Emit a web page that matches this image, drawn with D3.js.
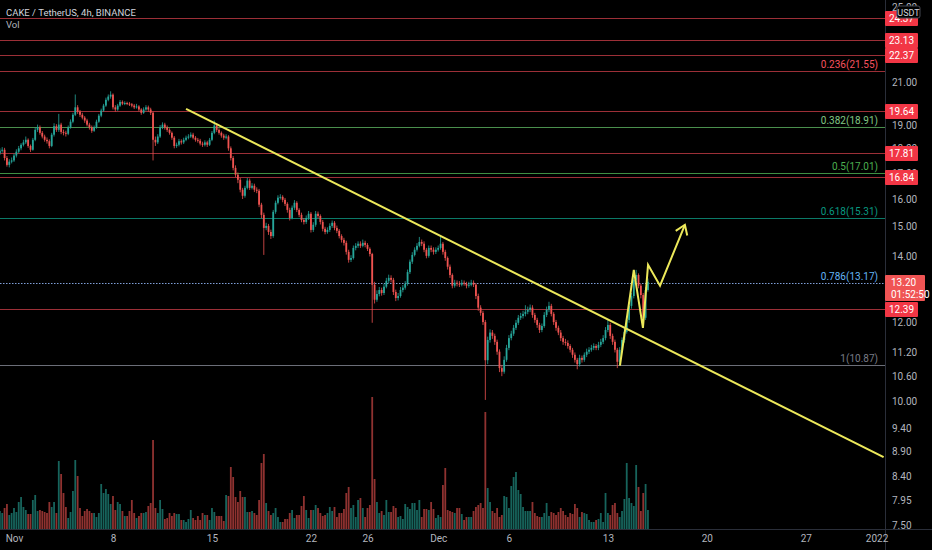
<!DOCTYPE html>
<html>
<head>
<meta charset="utf-8">
<script src="https://cdn.jsdelivr.net/npm/d3@7"></script>
<style>
  html, body { margin: 0; padding: 0; background: #000; overflow: hidden; }
  text { font-family: Roboto, "Liberation Sans", sans-serif; }
</style>
</head>
<body>
<svg width="932" height="550"></svg>
<script>
// CAKE / USDT 4h candles, first candle Oct 31 2021 00:00 UTC
const startTime = "2021-10-31T00:00:00Z";
const firstOpen = 17.8;
const closes = [
  17.9,17.94,17.6,17.32,17.45,17.5,17.7,17.86,18.0,18.15,18.25,18.36,
  18.1,17.94,18.36,18.79,18.9,18.66,18.5,18.36,18.3,18.1,18.58,18.95,
  18.79,19.02,18.7,18.66,18.62,18.9,19.15,19.46,19.8,19.6,19.46,19.33,
  19.2,19.02,18.9,18.75,18.9,19.15,19.42,19.65,19.88,20.15,20.3,20.39,
  19.8,19.7,19.88,20.05,19.97,20.0,19.97,19.94,19.88,19.8,19.84,19.7,
  19.55,19.7,19.8,19.7,19.55,18.36,18.25,18.5,18.9,19.02,18.9,18.79,
  18.66,18.45,18.1,18.15,18.3,18.25,18.36,18.45,18.5,18.58,18.45,18.36,
  18.32,18.2,18.15,18.25,18.15,18.36,18.66,18.98,18.79,18.66,18.54,18.45,
  18.5,18.0,17.6,17.2,16.93,16.73,16.35,16.12,16.42,16.7,16.42,16.5,
  16.35,16.31,15.79,15.42,14.96,15.03,14.82,14.68,15.53,15.86,16.05,16.08,
  15.97,15.82,15.6,15.31,15.68,15.86,15.6,15.42,15.24,15.17,15.31,15.46,
  14.89,15.07,15.46,15.38,15.17,14.93,14.82,14.89,15.03,15.14,14.96,14.86,
  14.68,14.55,14.45,14.15,13.89,13.95,14.28,14.35,14.42,14.35,14.45,14.38,
  14.25,14.08,13.11,12.66,12.83,12.95,12.86,13.05,13.23,13.32,13.26,12.89,
  12.71,12.77,12.95,13.02,13.14,13.5,13.83,14.05,14.22,14.35,14.48,14.42,
  14.22,14.02,14.28,14.22,14.15,14.22,14.28,14.42,14.15,13.95,13.67,13.41,
  13.08,13.17,13.14,13.11,13.17,13.14,13.08,13.11,13.17,13.11,12.77,12.43,
  12.28,12.02,11.0,11.53,11.73,11.64,11.48,11.22,10.8,10.71,11.01,11.32,
  11.58,11.7,11.86,12.0,12.14,12.19,12.25,12.31,12.37,12.43,12.22,12.08,
  11.94,11.8,11.91,12.22,12.37,12.48,12.25,12.02,11.86,11.73,11.58,11.48,
  11.45,11.37,11.27,11.14,11.01,10.9,11.06,11.01,11.14,11.22,11.27,11.32,
  11.37,11.32,11.4,11.48,11.58,11.8,11.94,11.64,11.48,11.27,10.96,11.27,
  11.53,11.75,12.08,12.48,12.77,13.26,13.41,13.08,12.8,12.14,12.95,13.2
];
const highs = [
  18.0,18.05,18.02,17.68,17.55,17.62,17.78,17.96,18.1,18.22,18.36,18.5,
  18.42,18.16,18.44,18.9,19.02,18.98,18.74,18.58,18.46,18.38,18.66,19.08,
  19.04,19.5,19.1,18.8,18.75,18.98,19.25,19.55,20.4,19.9,19.68,19.55,
  19.4,19.28,19.1,18.98,18.98,19.24,19.5,19.74,19.96,20.25,20.4,20.55,
  20.45,19.9,19.96,20.14,20.12,20.08,20.06,20.04,20.0,19.95,19.96,19.9,
  19.76,19.8,19.9,19.88,19.78,19.6,18.5,18.6,19.0,19.12,19.1,18.98,
  18.86,18.72,18.52,18.24,18.4,18.38,18.45,18.54,18.6,18.68,18.66,18.52,
  18.44,18.4,18.28,18.34,18.32,18.44,18.74,19.2,19.05,18.86,18.72,18.62,
  18.6,18.56,18.08,17.68,17.3,17.02,16.8,16.42,16.5,16.8,16.78,16.6,
  16.58,16.44,16.38,15.86,15.5,15.14,15.1,14.9,15.6,15.94,16.14,16.18,
  16.14,16.04,15.88,15.68,15.76,15.96,15.92,15.66,15.5,15.3,15.4,15.56,
  15.52,15.16,15.56,15.54,15.44,15.24,15.0,14.98,15.12,15.22,15.2,15.04,
  14.92,14.74,14.62,14.52,14.22,14.04,14.36,14.44,14.5,14.5,14.56,14.52,
  14.44,14.3,14.12,13.2,12.94,13.04,13.02,13.14,13.32,13.42,13.4,13.32,
  12.96,12.86,13.04,13.1,13.22,13.58,13.9,14.14,14.3,14.44,14.65,14.56,
  14.5,14.28,14.36,14.36,14.3,14.3,14.36,14.65,14.48,14.22,14.0,13.74,
  13.46,13.26,13.24,13.22,13.26,13.24,13.2,13.2,13.26,13.24,13.16,12.84,
  12.5,12.34,12.08,11.62,11.82,11.8,11.7,11.54,11.28,10.88,11.1,11.4,
  11.66,11.78,11.94,12.08,12.22,12.28,12.34,12.5,12.46,12.52,12.5,12.28,
  12.14,12.0,11.98,12.3,12.46,12.6,12.54,12.3,12.08,11.92,11.8,11.64,
  11.56,11.52,11.42,11.32,11.2,11.06,11.14,11.12,11.2,11.3,11.34,11.4,
  11.44,11.42,11.48,11.56,11.66,11.88,12.1,12.0,11.7,11.54,11.32,11.34,
  11.6,11.84,12.16,12.56,12.86,13.36,13.57,13.46,13.14,12.86,13.04,13.3
];
const lows = [
  17.72,17.82,17.5,17.25,17.22,17.38,17.44,17.62,17.8,17.92,18.08,18.18,
  18.02,17.85,17.9,18.3,18.7,18.58,18.42,18.28,18.2,18.0,18.05,18.5,
  18.7,18.7,18.6,18.55,18.5,18.56,18.84,19.08,19.4,19.5,19.36,19.25,
  19.1,18.94,18.8,18.66,18.7,18.84,19.1,19.35,19.6,19.82,20.08,20.2,
  19.7,19.6,19.64,19.82,19.9,19.9,19.9,19.86,19.8,19.72,19.74,19.62,
  19.46,19.5,19.64,19.6,19.45,17.5,18.1,18.18,18.44,18.82,18.8,18.7,
  18.58,18.36,18.0,18.02,18.08,18.16,18.18,18.3,18.38,18.44,18.38,18.28,
  18.24,18.12,18.06,18.08,18.06,18.1,18.3,18.6,18.7,18.58,18.45,18.36,
  18.38,17.9,17.5,17.1,16.84,16.6,16.25,16.0,16.05,16.36,16.34,16.36,
  16.26,16.22,15.7,15.3,14.05,14.88,14.72,14.58,14.62,15.46,15.8,15.98,
  15.88,15.74,15.5,15.22,15.26,15.6,15.52,15.34,15.16,15.08,15.1,15.24,
  14.8,14.82,15.0,15.3,15.08,14.84,14.74,14.76,14.82,14.96,14.88,14.78,
  14.6,14.46,14.36,14.06,13.8,13.82,13.9,14.2,14.28,14.28,14.3,14.3,
  14.18,14.0,12.0,12.55,12.6,12.76,12.78,12.8,13.0,13.16,13.18,12.8,
  12.62,12.64,12.72,12.88,12.96,13.08,13.44,13.76,14.0,14.16,14.3,14.34,
  14.14,13.94,13.96,14.14,14.06,14.08,14.16,14.22,14.06,13.86,13.58,13.32,
  13.0,13.02,13.06,13.04,13.06,13.08,13.0,13.02,13.06,13.04,12.68,12.34,
  12.2,11.94,10.03,10.9,11.46,11.56,11.4,11.14,10.7,10.6,10.66,10.96,
  11.26,11.52,11.64,11.8,11.94,12.08,12.12,12.18,12.24,12.3,12.14,12.0,
  11.86,11.72,11.74,11.86,12.16,12.3,12.18,11.94,11.78,11.66,11.5,11.4,
  11.38,11.3,11.2,11.06,10.94,10.77,10.84,10.94,10.96,11.08,11.16,11.22,
  11.26,11.26,11.26,11.34,11.42,11.52,11.74,11.56,11.4,11.2,10.8,10.9,
  11.2,11.46,11.7,12.0,12.4,12.7,13.18,13.0,12.7,12.0,12.08,12.9
];
// volume, thousands of CAKE
const volumes = [
  18,16,21,25,14,16,21,17,27,32,22,19,15,15,29,34,18,19,18,17,
  16,27,22,27,16,68,55,36,22,11,17,38,69,53,21,13,18,20,18,16,
  16,12,16,45,36,40,35,25,33,19,27,25,18,13,13,18,29,16,11,13,
  16,16,17,23,26,89,21,16,29,20,10,11,16,13,16,15,15,9,9,7,
  10,19,11,9,13,9,16,14,14,9,21,17,13,13,13,8,34,33,62,52,
  32,27,38,32,32,17,17,18,16,14,29,66,75,26,18,14,16,21,12,7,
  7,10,10,16,19,11,14,14,23,33,19,11,19,19,24,21,16,13,14,16,
  22,18,22,12,16,16,20,36,42,21,24,12,29,31,21,12,21,24,132,50,
  27,16,18,14,29,17,17,23,21,12,13,10,25,22,20,26,26,19,29,12,
  20,20,19,27,20,11,14,12,44,61,19,18,17,16,21,21,15,9,12,12,
  12,18,22,24,26,21,117,41,27,18,16,21,12,14,33,32,21,43,52,57,
  39,35,22,18,18,18,27,16,13,12,12,16,26,13,17,16,14,17,21,18,
  14,12,16,15,25,21,12,17,16,15,9,7,7,9,10,16,7,36,16,14,
  24,26,16,12,18,30,66,31,26,23,64,42,18,36,45,19
];

// axis ticks
const xTickDates = ["2021-11-01","2021-11-08","2021-11-15","2021-11-22","2021-11-26",
  "2021-12-01","2021-12-06","2021-12-13","2021-12-20","2021-12-27","2022-01-01"];
const xTickLabels = ["Nov","8","15","22","26","Dec","6","13","20","27","2022"];
const yTicks = [25,21,19,18,17,16,15,14,12,11.2,10.6,10,9.4,8.9,8.4,7.95,7.5];

// drawn levels
const levelPrices = [24.37, 23.13, 22.37, 19.64, 17.81, 16.84, 12.39];
const fibRatios = [0.236, 0.382, 0.5, 0.618, 0.786, 1];
const fibPrices = [21.55, 18.91, 17.01, 15.31, 13.17, 10.87];
const lastPrice = 13.20;
const countdown = "01:52:50";

// trend line and projected path
const trendTimes = ["2021-11-13T04:00Z", "2022-01-01T12:00Z"];
const trendPrices = [19.73, 8.78];
const pathTimes = ["2021-12-13T20:30Z","2021-12-14T20:00Z","2021-12-15T11:30Z",
  "2021-12-15T20:10Z","2021-12-16T16:30Z","2021-12-18T10:45Z"];
const pathPrices = [10.86, 13.57, 11.86, 13.73, 13.08, 15.07];

const W = 932, H = 550, axisX = 885, axisY = 529;
const up = "#26a69a", down = "#ef5350";
const fibColors = ["#f7525f", "#81c784", "#4caf50", "#089981", "#64b5f6", "#787b86"];
const fibLine = ["#9c2f37", "#4a8f4d", "#3f8f43", "#0b7a68", "#7f9fd8", "#6b6e78"];

const t0 = new Date(startTime).getTime();
const candles = closes.map((c, i) => ({
  t: new Date(t0 + i * 4 * 3600e3),
  o: i === 0 ? firstOpen : closes[i - 1],
  c, h: highs[i], l: lows[i], v: volumes[i]
}));

const svg = d3.select("svg");
svg.append("rect").attr("width", W).attr("height", H).attr("fill", "#000");

const x = d3.scaleUtc()
  .domain([new Date("2021-11-01T00:00Z"), new Date("2022-01-01T00:00Z")])
  .range([14, 14 + 61 * 14.14]);
const y = d3.scaleLog().domain([7.5, 21]).range([525, 82]);
const v = d3.scaleLinear().domain([0, d3.max(volumes)]).range([axisY, 397]);

svg.append("clipPath").attr("id", "pane")
  .append("rect").attr("width", axisX).attr("height", axisY);
const pane = svg.append("g").attr("clip-path", "url(#pane)");

//volume
const bw = 1.8;
pane.append("g").selectAll("rect").data(candles).join("rect")
  .attr("x", d => x(d.t) - bw / 2)
  .attr("y", d => v(d.v))
  .attr("width", bw)
  .attr("height", d => axisY - v(d.v))
  .attr("fill", d => d.c >= d.o ? up : down)
  .attr("opacity", 0.6);

//horizontal levels
pane.append("g").selectAll("line").data(levelPrices).join("line")
  .attr("x1", 0).attr("x2", axisX)
  .attr("y1", d => Math.round(y(d)) + 0.5).attr("y2", d => Math.round(y(d)) + 0.5)
  .attr("stroke", "#9c2f37").attr("stroke-width", 1);

const fib = pane.append("g");
fib.selectAll("line").data(fibPrices).join("line")
  .attr("x1", 0).attr("x2", axisX)
  .attr("y1", d => Math.round(y(d)) + 0.5).attr("y2", d => Math.round(y(d)) + 0.5)
  .attr("stroke", (d, i) => fibLine[i])
  .attr("stroke-width", 1)
  .attr("stroke-dasharray", (d, i) => fibRatios[i] === 0.786 ? "1.5,1.5" : null);
fib.selectAll("text").data(fibPrices).join("text")
  .attr("x", 878).attr("y", d => y(d) - 3)
  .attr("text-anchor", "end")
  .attr("font-size", 10)
  .attr("fill", (d, i) => fibColors[i])
  .text((d, i) => `${fibRatios[i]}(${d.toFixed(2)})`);

//candles
const cg = pane.append("g").selectAll("g").data(candles).join("g")
  .attr("fill", d => d.c >= d.o ? up : down)
  .attr("stroke", d => d.c >= d.o ? up : down);
cg.append("line")
  .attr("x1", d => x(d.t)).attr("x2", d => x(d.t))
  .attr("y1", d => y(d.h)).attr("y2", d => y(d.l))
  .attr("stroke-width", 0.8);
cg.append("rect")
  .attr("x", d => x(d.t) - bw / 2)
  .attr("y", d => y(Math.max(d.o, d.c)))
  .attr("width", bw)
  .attr("height", d => Math.max(1, Math.abs(y(d.o) - y(d.c))))
  .attr("stroke", "none");

//trend line
const yellow = "#ece85a";
const line = d3.line().x(d => x(d[0])).y(d => y(d[1]));
pane.append("path")
  .attr("d", line(trendTimes.map((t, i) => [new Date(t), trendPrices[i]])))
  .attr("fill", "none").attr("stroke", yellow).attr("stroke-width", 2);

const pts = pathTimes.map((t, i) => [new Date(t), pathPrices[i]]);
pane.append("path")
  .attr("d", line(pts))
  .attr("fill", "none").attr("stroke", yellow).attr("stroke-width", 2)
  .attr("stroke-linejoin", "miter");
// arrow head
const a = pts[pts.length - 2], b = pts[pts.length - 1];
const ax = x(a[0]), ay = y(a[1]), bx = x(b[0]), by = y(b[1]);
const ang = Math.atan2(by - ay, bx - ax);
const head = [ang + Math.PI - 0.6, ang + Math.PI + 0.6].map(q => [bx + 11 * Math.cos(q), by + 11 * Math.sin(q)]);
pane.append("path")
  .attr("d", `M${head[0]}L${bx},${by}L${head[1]}`)
  .attr("fill", "none").attr("stroke", yellow).attr("stroke-width", 2);

//axes frame
svg.append("line").attr("x1", axisX + 0.5).attr("x2", axisX + 0.5).attr("y1", 0).attr("y2", H)
  .attr("stroke", "#2a2e39");
svg.append("line").attr("x1", 0).attr("x2", W).attr("y1", axisY + 0.5).attr("y2", axisY + 0.5)
  .attr("stroke", "#2a2e39");

const yAxis = svg.append("g").attr("transform", `translate(${axisX},0)`)
  .call(d3.axisRight(y).tickValues(yTicks).tickFormat(d3.format(".2f")).tickSize(0).tickPadding(7));
yAxis.select(".domain").remove();
yAxis.selectAll("text").attr("fill", "#b2b5be").attr("font-size", 10);

const xAxis = svg.append("g").attr("transform", `translate(0,${axisY})`)
  .call(d3.axisBottom(x).tickValues(xTickDates.map(d => new Date(d + "T00:00Z")))
    .tickFormat((d, i) => xTickLabels[i]).tickSize(0).tickPadding(6));
xAxis.select(".domain").remove();
xAxis.selectAll("text").attr("fill", "#b2b5be").attr("font-size", 10);

//price tags
const tags = svg.append("g").selectAll("g").data(levelPrices).join("g")
  .attr("transform", d => `translate(${axisX},${Math.round(y(d)) - 7})`);
tags.append("rect").attr("width", 33).attr("height", 15).attr("rx", 1).attr("fill", "#f23645");
tags.append("text").attr("x", 16.5).attr("y", 11).attr("text-anchor", "middle")
  .attr("font-size", 10).attr("fill", "#fff").text(d => d.toFixed(2));

const cur = svg.append("g").attr("transform", `translate(${axisX},${Math.round(y(lastPrice)) - 7})`);
cur.append("rect").attr("width", 40).attr("height", 26).attr("rx", 1).attr("fill", "#f05454");
cur.append("text").attr("x", 6).attr("y", 11).attr("font-size", 10).attr("fill", "#fff")
  .text(lastPrice.toFixed(2));
cur.append("text").attr("x", 6).attr("y", 23).attr("font-size", 10).attr("fill", "#fff")
  .text(countdown);

//currency badge
const badge = svg.append("g").attr("transform", "translate(897,6)");
badge.append("rect").attr("width", 23).attr("height", 12).attr("rx", 2)
  .attr("fill", "#000").attr("stroke", "#434651");
badge.append("text").attr("x", 11.5).attr("y", 9.5).attr("text-anchor", "middle")
  .attr("font-size", 9).attr("fill", "#d1d4dc").text("USDT");

//title
svg.append("text").attr("x", 6).attr("y", 16).attr("font-size", 9.5).attr("fill", "#d1d4dc")
  .text("CAKE / TetherUS, 4h, BINANCE");
svg.append("text").attr("x", 6).attr("y", 28).attr("font-size", 9.5).attr("fill", "#b2b5be")
  .text("Vol");
</script>
</body>
</html>
